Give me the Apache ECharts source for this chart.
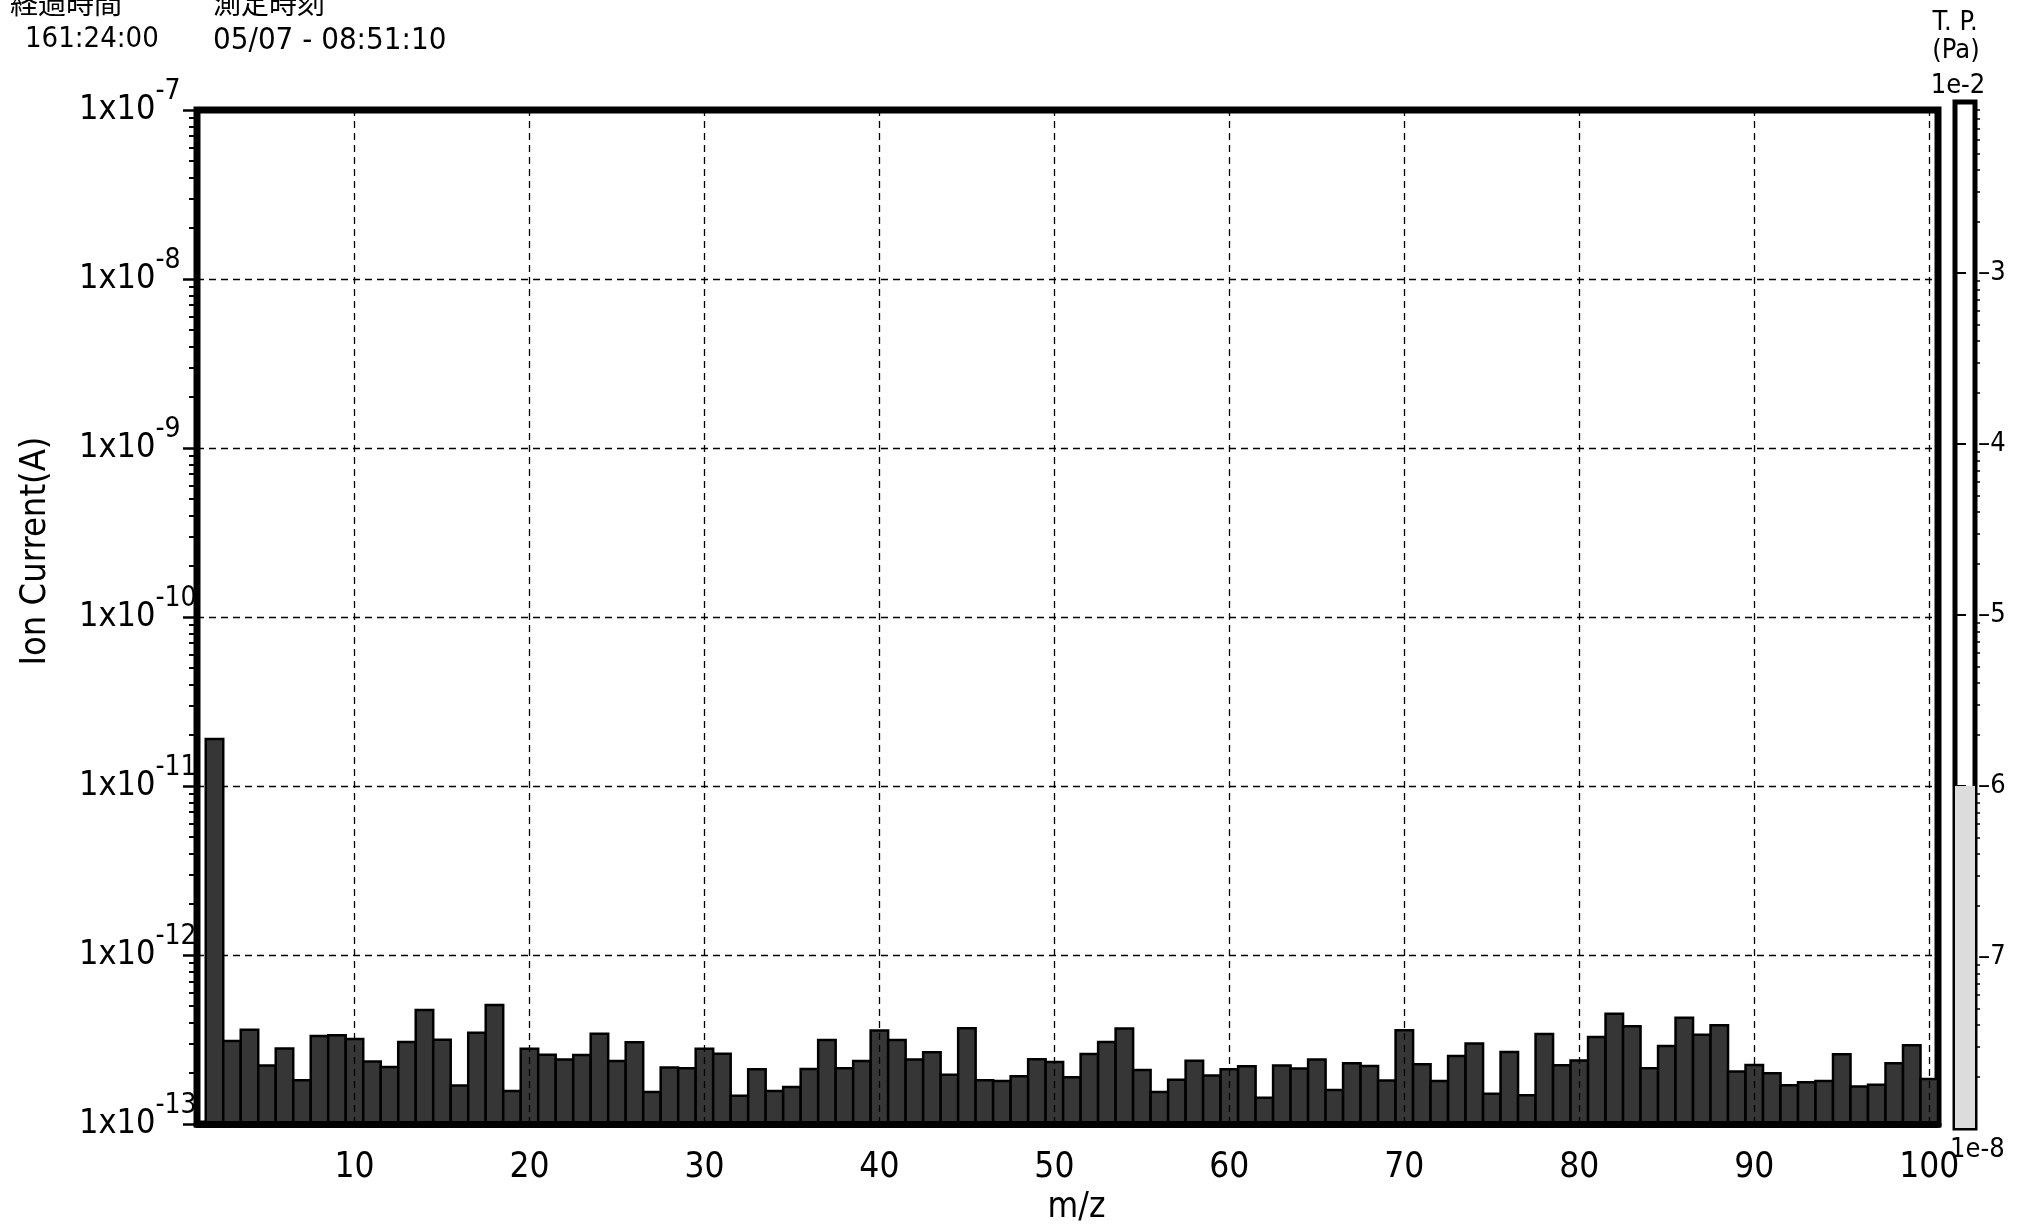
<!DOCTYPE html>
<html>
<head>
<meta charset="utf-8">
<script src="https://cdn.jsdelivr.net/npm/echarts@6/dist/echarts.min.js"></script>
<style>
  html, body { margin: 0; padding: 0; background: #fff; }
  #chart { width: 2018px; height: 1230px; }
</style>
</head>
<body>
<div id="chart"></div>
<script>
// Mass numbers of the scanned channels (m/z)
const massNumbers = [
  2, 3, 4, 5, 6, 7, 8, 9, 10, 11, 12, 13, 14, 15, 16, 17, 18, 19, 20,
  21, 22, 23, 24, 25, 26, 27, 28, 29, 30, 31, 32, 33, 34, 35, 36, 37, 38, 39, 40,
  41, 42, 43, 44, 45, 46, 47, 48, 49, 50, 51, 52, 53, 54, 55, 56, 57, 58, 59, 60,
  61, 62, 63, 64, 65, 66, 67, 68, 69, 70, 71, 72, 73, 74, 75, 76, 77, 78, 79, 80,
  81, 82, 83, 84, 85, 86, 87, 88, 89, 90, 91, 92, 93, 94, 95, 96, 97, 98, 99, 100
];

// Ion current per channel (A)
const ionCurrent = [
  1.9e-11, 3.10e-13, 3.62e-13, 2.22e-13, 2.80e-13, 1.82e-13, 3.32e-13, 3.36e-13, 3.19e-13, 2.35e-13,
  2.18e-13, 3.06e-13, 4.73e-13, 3.16e-13, 1.69e-13, 3.47e-13, 5.06e-13, 1.57e-13, 2.79e-13,
  2.57e-13, 2.41e-13, 2.56e-13, 3.43e-13, 2.36e-13, 3.05e-13, 1.55e-13, 2.16e-13, 2.14e-13, 2.79e-13,
  2.61e-13, 1.47e-13, 2.11e-13, 1.57e-13, 1.66e-13, 2.12e-13, 3.15e-13, 2.14e-13, 2.36e-13, 3.58e-13,
  3.15e-13, 2.41e-13, 2.66e-13, 1.96e-13, 3.69e-13, 1.82e-13, 1.80e-13, 1.92e-13, 2.42e-13, 2.33e-13,
  1.89e-13, 2.60e-13, 3.06e-13, 3.68e-13, 2.09e-13, 1.55e-13, 1.83e-13, 2.37e-13, 1.94e-13, 2.11e-13,
  2.20e-13, 1.43e-13, 2.22e-13, 2.13e-13, 2.41e-13, 1.59e-13, 2.29e-13, 2.21e-13, 1.81e-13, 3.59e-13,
  2.26e-13, 1.80e-13, 2.53e-13, 3.00e-13, 1.51e-13, 2.67e-13, 1.48e-13, 3.41e-13, 2.23e-13, 2.38e-13,
  3.28e-13, 4.49e-13, 3.79e-13, 2.14e-13, 2.90e-13, 4.26e-13, 3.38e-13, 3.85e-13, 2.05e-13, 2.24e-13,
  2.00e-13, 1.70e-13, 1.77e-13, 1.80e-13, 2.59e-13, 1.67e-13, 1.71e-13, 2.29e-13, 2.93e-13, 1.85e-13
];

// m/z tick labels and vertical grid positions
const massTicks = [10, 20, 30, 40, 50, 60, 70, 80, 90, 100];

// Ion current range (A)
const currentMin = 1e-13;
const currentMax = 1e-7;

// Total pressure gauge (Pa)
const pressureMin = 1e-8;
const pressureMax = 1e-2;
const totalPressure = 1.0e-6;
const pressureTitle = ['T. P.', '(Pa)'];
const pressureEndLabels = ['1e-2', '1e-8'];

// Header: elapsed time and measurement time
const headerTitles = ['経過時間', '測定時刻'];
const headerValues = ['161:24:00', '05/07 - 08:51:10'];

// Log minor tick positions (2..9 within each decade), in exponent units
function minorExponents(lowExp, highExp) {
  const out = [];
  for (let e = lowExp; e < highExp; e++) {
    for (let k = 2; k <= 9; k++) out.push(e + Math.log10(k));
  }
  return out;
}
const currentMinorTicks = minorExponents(-13, -7);
const pressureMinorTicks = minorExponents(-8, -2);

const FONT = '"Liberation Sans Narrow", "DejaVu Sans Condensed", "Liberation Sans", sans-serif';
const CJK = '"Noto Sans CJK JP", "Noto Sans CJK SC", sans-serif';

const chart = echarts.init(document.getElementById('chart'), null, { renderer: 'canvas' });

function renderCurrentBar(params, api) {
  const mz = api.value(0);
  const cur = api.value(1);
  const topLeft = api.coord([mz - 0.5, cur]);
  const bottomRight = api.coord([mz + 0.5, currentMin]);
  return {
    type: 'rect',
    shape: {
      x: topLeft[0],
      y: topLeft[1],
      width: bottomRight[0] - topLeft[0],
      height: bottomRight[1] - topLeft[1]
    },
    style: { fill: '#363636', stroke: '#000', lineWidth: 2.5 }
  };
}

function renderPressureBar(params, api) {
  const top = api.coord([0, api.value(1)]);
  const bottom = api.coord([1, pressureMin]);
  return {
    type: 'rect',
    shape: { x: top[0], y: top[1], width: bottom[0] - top[0], height: bottom[1] - top[1] },
    style: { fill: '#dcdcdc' }
  };
}

// exponent of a decade value
const decade = v => Math.round(Math.log10(v));

const option = {
  backgroundColor: '#fff',
  animation: false,
  textStyle: { fontFamily: FONT, color: '#000' },
  grid: [
    {
      left: 197, top: 110, width: 1741, height: 1030,
      show: true, borderColor: '#000', borderWidth: 7, backgroundColor: 'transparent'
    },
    {
      left: 1955, top: 102, width: 20, height: 1026,
      show: true, borderColor: '#000', borderWidth: 5, backgroundColor: '#fff'
    }
  ],
  xAxis: [
    {
      gridIndex: 0, type: 'value', min: 1, max: 100.5, z: 3,
      axisLine: { show: true, onZero: false, lineStyle: { color: '#000', width: 7 } },
      axisTick: { show: false },
      splitLine: { show: false },
      axisLabel: { customValues: massTicks, fontSize: 35, margin: 26, color: '#000', fontFamily: FONT },
      name: 'm/z', nameLocation: 'middle', nameGap: 62,
      nameTextStyle: { fontSize: 35, color: '#000', fontFamily: FONT, padding: [0, 0, 0, 18] }
    },
    {
      gridIndex: 1, type: 'value', min: 0, max: 1, show: false
    }
  ],
  yAxis: [
    {
      gridIndex: 0, type: 'log', logBase: 10, min: currentMin, max: currentMax, splitNumber: 6,
      axisLine: { show: false },
      axisTick: { show: true, length: 14, lineStyle: { color: '#000', width: 2.5 } },
      splitLine: { show: true, lineStyle: { color: '#000', width: 1.3, type: [7, 5] } },
      axisLabel: {
        align: 'left', margin: 118, padding: [0, 0, 15, 0],
        formatter: v => '{a|1x10}{b|' + decade(v) + '}',
        rich: {
          a: { fontSize: 34, lineHeight: 49, verticalAlign: 'bottom', fontFamily: FONT, color: '#000' },
          b: { fontSize: 28, lineHeight: 28, verticalAlign: 'top', fontFamily: FONT, color: '#000' }
        }
      },
      name: 'Ion Current(A)', nameLocation: 'middle', nameGap: 143,
      nameTextStyle: { fontSize: 36, color: '#000', fontFamily: '"DejaVu Sans Condensed", ' + FONT, padding: [0, 0, 0, 132] }
    },
    {
      gridIndex: 0, type: 'value', min: -13, max: -7, position: 'left',
      axisLine: { show: false },
      axisLabel: { show: false },
      splitLine: { show: false },
      axisTick: { show: true, customValues: currentMinorTicks, length: 8, lineStyle: { color: '#000', width: 2 } }
    },
    {
      gridIndex: 1, type: 'log', logBase: 10, min: pressureMin, max: pressureMax, splitNumber: 6,
      position: 'right',
      axisLine: { show: false },
      axisTick: { show: true, length: 11, lineStyle: { color: '#000', width: 2 } },
      splitLine: { show: false },
      axisLabel: {
        fontSize: 27, margin: 3, padding: [0, 0, 14, 0], color: '#000', fontFamily: FONT,
        formatter: v => {
          const e = decade(v);
          return (e <= -8 || e >= -2) ? '' : '\u2013' + Math.abs(e);
        }
      }
    },
    {
      gridIndex: 1, type: 'value', min: -8, max: -2, position: 'right',
      axisLine: { show: false },
      axisLabel: { show: false },
      splitLine: { show: false },
      axisTick: { show: true, customValues: pressureMinorTicks, length: 5, lineStyle: { color: '#000', width: 1.5 } }
    }
  ],
  graphic: [
    { type: 'text', x: 10, y: -11, style: { text: headerTitles[0], fontSize: 28, fontFamily: CJK, fill: '#000', align: 'left', verticalAlign: 'top' } },
    { type: 'text', x: 213, y: -11, style: { text: headerTitles[1], fontSize: 28, fontFamily: CJK, fill: '#000', align: 'left', verticalAlign: 'top' } },
    { type: 'text', x: 25, y: 25, style: { text: headerValues[0], fontSize: 29, fontFamily: FONT, fill: '#000', align: 'left', verticalAlign: 'top' } },
    { type: 'text', x: 213, y: 25, style: { text: headerValues[1], fontSize: 31, fontFamily: FONT, fill: '#000', align: 'left', verticalAlign: 'top' } },
    { type: 'text', x: 1955, y: 9, style: { text: pressureTitle[0], fontSize: 27, fontFamily: FONT, fill: '#000', align: 'center', verticalAlign: 'top' } },
    { type: 'text', x: 1956, y: 37, style: { text: pressureTitle[1], fontSize: 27, fontFamily: FONT, fill: '#000', align: 'center', verticalAlign: 'top' } },
    { type: 'text', x: 1958, y: 72, style: { text: pressureEndLabels[0], fontSize: 27, fontFamily: FONT, fill: '#000', align: 'center', verticalAlign: 'top' } },
    { type: 'text', x: 1950, y: 1136, style: { text: pressureEndLabels[1], fontSize: 27, fontFamily: FONT, fill: '#000', align: 'left', verticalAlign: 'top' } }
  ],
  series: [
    {
      // dashed vertical grid lines at the labelled m/z values
      type: 'line', xAxisIndex: 0, yAxisIndex: 0, data: [], z: 1, silent: true,
      markLine: {
        silent: true, symbol: ['none', 'none'], label: { show: false },
        lineStyle: { color: '#000', width: 1.3, type: [7, 5] },
        emphasis: { disabled: true },
        data: massTicks.map(v => ({ xAxis: v }))
      }
    },
    {
      type: 'custom', name: 'Ion Current', xAxisIndex: 0, yAxisIndex: 0, z: 2, clip: true,
      renderItem: renderCurrentBar,
      data: massNumbers.map((m, i) => [m, ionCurrent[i]])
    },
    {
      type: 'custom', name: 'Total Pressure', xAxisIndex: 1, yAxisIndex: 2, z: 2,
      renderItem: renderPressureBar,
      data: [[0, totalPressure]]
    }
  ]
};

chart.setOption(option);
</script>
</body>
</html>
